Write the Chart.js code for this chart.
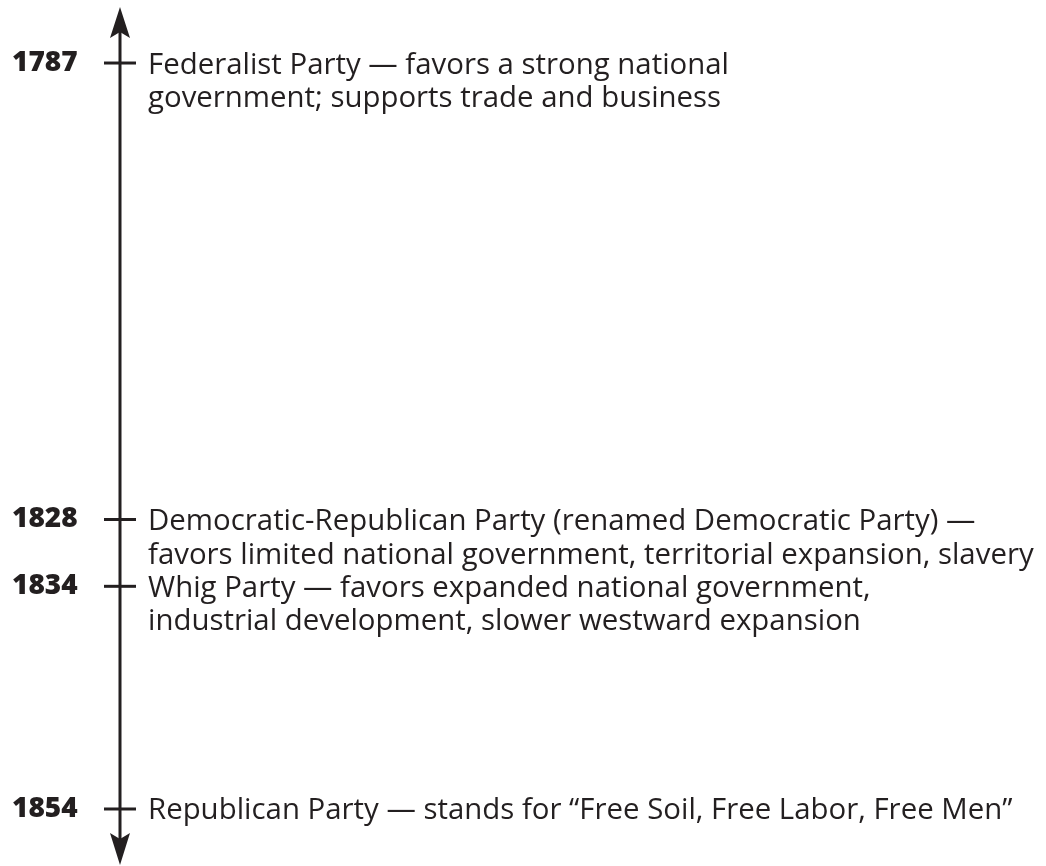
<!DOCTYPE html>
<html>
<head>
<meta charset="utf-8">
<script src="https://cdn.jsdelivr.net/npm/chart.js@4.4.0/dist/chart.umd.min.js"></script>
<style>
html, body { margin: 0; padding: 0; background: #fff; }
#chartBox { width: 1046px; height: 866px; position: relative; }
</style>
</head>
<body>
<div id="chartBox"><canvas id="myChart"></canvas></div>
<script>
var years = [1787, 1828, 1834, 1854];
var notes = [
    ["Federalist Party \u2014 favors a strong national", "government; supports trade and business"],
    ["Democratic-Republican Party (renamed Democratic Party) \u2014", "favors limited national government, territorial expansion, slavery"],
    ["Whig Party \u2014 favors expanded national government,", "industrial development, slower westward expansion"],
    ["Republican Party \u2014 stands for \u201CFree Soil, Free Labor, Free Men\u201D"]
];

var ink = '#231f20';
var textFont = '29.4px "Open Sans"';

// axis line, arrow heads and the party descriptions
const timeline = {
    id: 'timeline',
    beforeDatasetsDraw(chart) {
        var ctx = chart.ctx;
        var cx = chart.scales.x.getPixelForValue(0);
        var top = chart.chartArea.top + 7;
        var bottom = chart.chartArea.bottom - 1;

        ctx.save();
        ctx.strokeStyle = ink;
        ctx.fillStyle = ink;
        ctx.lineWidth = 3;
        ctx.beginPath();
        ctx.moveTo(cx, top + 20);
        ctx.lineTo(cx, bottom - 20);
        ctx.stroke();

        ctx.beginPath();
        ctx.moveTo(cx, top);
        ctx.lineTo(cx + 10, top + 31);
        ctx.lineTo(cx, top + 25);
        ctx.lineTo(cx - 10, top + 31);
        ctx.closePath();
        ctx.fill();

        ctx.beginPath();
        ctx.moveTo(cx, bottom);
        ctx.lineTo(cx + 10, bottom - 32);
        ctx.lineTo(cx, bottom - 26);
        ctx.lineTo(cx - 10, bottom - 32);
        ctx.closePath();
        ctx.fill();
        ctx.restore();
    },
    afterDatasetsDraw(chart) {
        var ctx = chart.ctx;
        var y = chart.scales.y;
        var tx = chart.scales.x.getPixelForValue(0) + 28;

        ctx.save();
        ctx.fillStyle = ink;
        ctx.font = textFont;
        ctx.textAlign = 'left';
        ctx.textBaseline = 'alphabetic';
        for (var i = 0; i < years.length; i++) {
            var py = y.getPixelForValue(years[i]);
            for (var j = 0; j < notes[i].length; j++) {
                ctx.fillText(notes[i][j], tx, py + 10.5 + j * 33.5);
            }
        }
        ctx.restore();
    }
};

const data = {
    datasets: [{
        data: years.map(function (yr) { return { x: 0, y: yr }; }),
        pointStyle: 'line',
        pointRadius: 16,
        pointHoverRadius: 16,
        borderColor: ink,
        borderWidth: 3,
        clip: false
    }]
};

const config = {
    type: 'scatter',
    data,
    options: {
        responsive: true,
        maintainAspectRatio: false,
        animation: false,
        layout: {
            autoPadding: false,
            padding: { left: 12, right: 910, top: 0, bottom: 0 }
        },
        plugins: {
            legend: { display: false },
            tooltip: { enabled: false }
        },
        scales: {
            x: { display: false, min: -1, max: 1 },
            y: {
                reverse: true,
                min: 1781.34,
                max: 1859.12,
                grid: { display: false },
                border: { display: false },
                afterBuildTicks: function (s) {
                    s.ticks = years.map(function (v) { return { value: v }; });
                },
                afterFit: function (s) {
                    s.width = 92;
                    s.paddingTop = 0;
                    s.paddingBottom = 0;
                },
                ticks: {
                    crossAlign: 'far',
                    padding: 0,
                    color: ink,
                    font: { family: 'Open Sans', size: 28, weight: 800 },
                    callback: function (v) { return String(v); }
                }
            }
        }
    },
    plugins: [timeline]
};

const myChart = new Chart(document.getElementById('myChart'), config);
</script>
</body>
</html>
